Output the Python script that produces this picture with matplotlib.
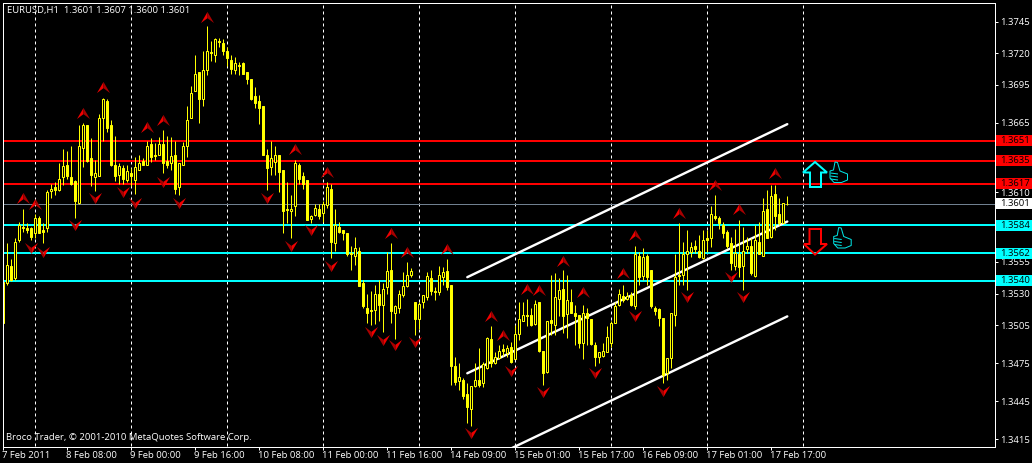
import matplotlib
matplotlib.use('Agg')
import matplotlib.pyplot as plt
from matplotlib.path import Path
from matplotlib.patches import Polygon, Rectangle
from matplotlib.transforms import Affine2D, ScaledTranslation, blended_transform_factory

# Hourly EURUSD candles
opens = [1.3507, 1.3538, 1.3552, 1.3542, 1.3572, 1.3583, 1.3582, 1.3582, 1.3578, 1.3590,
         1.3580, 1.3582, 1.3611, 1.3614, 1.3612, 1.3622, 1.3632, 1.3622, 1.3619, 1.3602,
         1.3645, 1.3663, 1.3637, 1.3622, 1.3623, 1.3669, 1.3682, 1.3663, 1.3632, 1.3624,
         1.3629, 1.3620, 1.3625, 1.3620, 1.3628, 1.3635, 1.3632, 1.3648, 1.3640, 1.3640,
         1.3648, 1.3635, 1.3633, 1.3640, 1.3614, 1.3632, 1.3647, 1.3669, 1.3690, 1.3705,
         1.3684, 1.3707, 1.3721, 1.3719, 1.3730, 1.3728, 1.3722, 1.3715, 1.3707, 1.3711,
         1.3712, 1.3705, 1.3700, 1.3686, 1.3682, 1.3678, 1.3640, 1.3630, 1.3634, 1.3640,
         1.3628, 1.3597, 1.3595, 1.3599, 1.3632, 1.3623, 1.3620, 1.3589, 1.3592, 1.3597,
         1.3594, 1.3600, 1.3613, 1.3570, 1.3583, 1.3580, 1.3578, 1.3562, 1.3560, 1.3564,
         1.3538, 1.3519, 1.3517, 1.3517, 1.3530, 1.3521, 1.3535, 1.3549, 1.3515, 1.3519,
         1.3529, 1.3536, 1.3545, 1.3523, 1.3510, 1.3523, 1.3527, 1.3542, 1.3532, 1.3531,
         1.3543, 1.3548, 1.3537, 1.3473, 1.3461, 1.3462, 1.3451, 1.3439, 1.3457, 1.3462,
         1.3459, 1.3471, 1.3494, 1.3475, 1.3479, 1.3486, 1.3483, 1.3488, 1.3478, 1.3498,
         1.3508, 1.3513, 1.3513, 1.3506, 1.3523, 1.3485, 1.3468, 1.3509, 1.3505, 1.3526,
         1.3534, 1.3514, 1.3523, 1.3515, 1.3513, 1.3491, 1.3515, 1.3510, 1.3489, 1.3480,
         1.3481, 1.3484, 1.3491, 1.3507, 1.3521, 1.3528, 1.3526, 1.3529, 1.3520, 1.3560,
         1.3544, 1.3560, 1.3549, 1.3519, 1.3518, 1.3511, 1.3467, 1.3479, 1.3513, 1.3545,
         1.3545, 1.3561, 1.3563, 1.3568, 1.3564, 1.3558, 1.3574, 1.3574, 1.3591, 1.3590,
         1.3584, 1.3579, 1.3570, 1.3552, 1.3561, 1.3552, 1.3565, 1.3568, 1.3544, 1.3571,
         1.3560, 1.3597, 1.3575, 1.3609, 1.3593, 1.3586, 1.3601]
highs = [1.3551, 1.3570, 1.3557, 1.3574, 1.3587, 1.3597, 1.3586, 1.3583, 1.3593, 1.3591,
         1.3586, 1.3612, 1.3617, 1.3618, 1.3633, 1.3644, 1.3643, 1.3647, 1.3620, 1.3663,
         1.3665, 1.3663, 1.3653, 1.3636, 1.3672, 1.3685, 1.3684, 1.3667, 1.3655, 1.3633,
         1.3632, 1.3632, 1.3629, 1.3638, 1.3640, 1.3637, 1.3651, 1.3653, 1.3649, 1.3654,
         1.3659, 1.3655, 1.3654, 1.3651, 1.3633, 1.3650, 1.3678, 1.3694, 1.3719, 1.3705,
         1.3722, 1.3742, 1.3730, 1.3732, 1.3732, 1.3731, 1.3725, 1.3719, 1.3717, 1.3713,
         1.3713, 1.3705, 1.3700, 1.3693, 1.3687, 1.3678, 1.3644, 1.3651, 1.3647, 1.3640,
         1.3628, 1.3618, 1.3608, 1.3636, 1.3633, 1.3626, 1.3620, 1.3592, 1.3601, 1.3601,
         1.3603, 1.3618, 1.3617, 1.3597, 1.3587, 1.3580, 1.3578, 1.3568, 1.3575, 1.3567,
         1.3541, 1.3530, 1.3532, 1.3537, 1.3541, 1.3538, 1.3563, 1.3570, 1.3521, 1.3533,
         1.3547, 1.3555, 1.3550, 1.3523, 1.3523, 1.3529, 1.3547, 1.3549, 1.3535, 1.3552,
         1.3551, 1.3557, 1.3537, 1.3480, 1.3475, 1.3463, 1.3459, 1.3457, 1.3475, 1.3487,
         1.3476, 1.3496, 1.3504, 1.3484, 1.3489, 1.3490, 1.3489, 1.3492, 1.3505, 1.3523,
         1.3523, 1.3526, 1.3519, 1.3525, 1.3523, 1.3485, 1.3508, 1.3545, 1.3546, 1.3542,
         1.3549, 1.3545, 1.3534, 1.3521, 1.3513, 1.3521, 1.3519, 1.3510, 1.3492, 1.3484,
         1.3491, 1.3504, 1.3508, 1.3523, 1.3534, 1.3537, 1.3531, 1.3531, 1.3568, 1.3563,
         1.3566, 1.3561, 1.3549, 1.3520, 1.3519, 1.3511, 1.3479, 1.3515, 1.3561, 1.3586,
         1.3571, 1.3580, 1.3571, 1.3572, 1.3576, 1.3580, 1.3580, 1.3599, 1.3608, 1.3591,
         1.3587, 1.3580, 1.3575, 1.3581, 1.3588, 1.3583, 1.3575, 1.3574, 1.3584, 1.3587,
         1.3606, 1.3612, 1.3616, 1.3616, 1.3606, 1.3602, 1.3607]
lows = [1.3507, 1.3537, 1.3540, 1.3541, 1.3571, 1.3579, 1.3578, 1.3572, 1.3574, 1.3578,
        1.3570, 1.3579, 1.3606, 1.3608, 1.3611, 1.3616, 1.3621, 1.3616, 1.3590, 1.3601,
        1.3630, 1.3634, 1.3615, 1.3611, 1.3623, 1.3651, 1.3658, 1.3631, 1.3619, 1.3617,
        1.3617, 1.3618, 1.3615, 1.3609, 1.3628, 1.3632, 1.3632, 1.3634, 1.3636, 1.3640,
        1.3625, 1.3629, 1.3628, 1.3609, 1.3608, 1.3632, 1.3638, 1.3669, 1.3690, 1.3665,
        1.3678, 1.3703, 1.3714, 1.3713, 1.3725, 1.3719, 1.3710, 1.3704, 1.3704, 1.3703,
        1.3704, 1.3696, 1.3683, 1.3677, 1.3664, 1.3640, 1.3612, 1.3624, 1.3624, 1.3610,
        1.3578, 1.3586, 1.3574, 1.3591, 1.3617, 1.3613, 1.3588, 1.3586, 1.3591, 1.3589,
        1.3587, 1.3598, 1.3558, 1.3564, 1.3578, 1.3572, 1.3560, 1.3549, 1.3553, 1.3536,
        1.3519, 1.3507, 1.3505, 1.3506, 1.3508, 1.3500, 1.3530, 1.3507, 1.3494, 1.3515,
        1.3527, 1.3535, 1.3543, 1.3497, 1.3502, 1.3519, 1.3525, 1.3529, 1.3525, 1.3529,
        1.3537, 1.3533, 1.3458, 1.3458, 1.3454, 1.3447, 1.3428, 1.3425, 1.3456, 1.3456,
        1.3456, 1.3470, 1.3472, 1.3474, 1.3478, 1.3481, 1.3480, 1.3475, 1.3478, 1.3493,
        1.3508, 1.3504, 1.3504, 1.3505, 1.3484, 1.3458, 1.3467, 1.3497, 1.3497, 1.3512,
        1.3499, 1.3495, 1.3515, 1.3489, 1.3487, 1.3478, 1.3489, 1.3489, 1.3473, 1.3475,
        1.3480, 1.3484, 1.3488, 1.3507, 1.3520, 1.3523, 1.3525, 1.3520, 1.3518, 1.3537,
        1.3541, 1.3537, 1.3519, 1.3513, 1.3504, 1.3459, 1.3462, 1.3471, 1.3504, 1.3537,
        1.3537, 1.3533, 1.3559, 1.3562, 1.3558, 1.3557, 1.3563, 1.3567, 1.3588, 1.3581,
        1.3574, 1.3566, 1.3549, 1.3549, 1.3543, 1.3533, 1.3562, 1.3545, 1.3543, 1.3561,
        1.3560, 1.3574, 1.3574, 1.3580, 1.3584, 1.3586, 1.3600]
closes = [1.3539, 1.3553, 1.3541, 1.3571, 1.3584, 1.3582, 1.3580, 1.3575, 1.3590, 1.3578,
          1.3579, 1.3610, 1.3613, 1.3612, 1.3621, 1.3631, 1.3623, 1.3617, 1.3603, 1.3647,
          1.3663, 1.3635, 1.3624, 1.3625, 1.3669, 1.3684, 1.3661, 1.3632, 1.3623, 1.3631,
          1.3621, 1.3627, 1.3623, 1.3630, 1.3633, 1.3632, 1.3647, 1.3638, 1.3639, 1.3648,
          1.3633, 1.3632, 1.3639, 1.3613, 1.3633, 1.3647, 1.3667, 1.3689, 1.3704, 1.3684,
          1.3707, 1.3722, 1.3720, 1.3731, 1.3729, 1.3722, 1.3716, 1.3708, 1.3712, 1.3710,
          1.3704, 1.3700, 1.3684, 1.3681, 1.3677, 1.3640, 1.3629, 1.3637, 1.3640, 1.3626,
          1.3595, 1.3596, 1.3597, 1.3633, 1.3621, 1.3617, 1.3588, 1.3591, 1.3598, 1.3591,
          1.3601, 1.3614, 1.3571, 1.3584, 1.3579, 1.3578, 1.3561, 1.3561, 1.3566, 1.3536,
          1.3520, 1.3515, 1.3516, 1.3530, 1.3521, 1.3534, 1.3548, 1.3516, 1.3520, 1.3530,
          1.3536, 1.3545, 1.3548, 1.3510, 1.3522, 1.3529, 1.3544, 1.3532, 1.3531, 1.3545,
          1.3547, 1.3535, 1.3473, 1.3460, 1.3464, 1.3449, 1.3440, 1.3457, 1.3462, 1.3458,
          1.3474, 1.3495, 1.3475, 1.3480, 1.3485, 1.3485, 1.3487, 1.3476, 1.3498, 1.3510,
          1.3513, 1.3512, 1.3505, 1.3522, 1.3485, 1.3467, 1.3508, 1.3507, 1.3527, 1.3533,
          1.3512, 1.3525, 1.3515, 1.3512, 1.3491, 1.3515, 1.3511, 1.3490, 1.3480, 1.3484,
          1.3485, 1.3496, 1.3507, 1.3520, 1.3530, 1.3525, 1.3528, 1.3521, 1.3561, 1.3543,
          1.3559, 1.3543, 1.3520, 1.3516, 1.3511, 1.3466, 1.3479, 1.3515, 1.3543, 1.3544,
          1.3561, 1.3564, 1.3567, 1.3565, 1.3559, 1.3572, 1.3572, 1.3593, 1.3590, 1.3586,
          1.3578, 1.3568, 1.3554, 1.3562, 1.3551, 1.3564, 1.3568, 1.3546, 1.3572, 1.3561,
          1.3595, 1.3574, 1.3607, 1.3591, 1.3586, 1.3602, 1.3601]

# fractal arrows: bar number and price
up_bars = [5, 8, 20, 25, 36, 40, 51, 73, 81, 97, 101, 111, 122, 125, 131, 134, 140, 145, 155, 158, 169, 178, 184, 193]
up_prices = [1.3606, 1.3601, 1.3673, 1.3693, 1.3662, 1.3667, 1.3749, 1.3644, 1.3626, 1.3578, 1.3563, 1.3565,
             1.3512, 1.3497, 1.3534, 1.3533, 1.3556, 1.3531, 1.3546, 1.3576, 1.3594, 1.3616, 1.3597, 1.3625]
down_bars = [7, 10, 18, 23, 30, 33, 40, 44, 66, 72, 77, 82, 92, 95, 98, 103, 117, 127, 135, 148, 158, 165, 171, 182, 185]
down_prices = [1.3566, 1.3563, 1.3584, 1.3606, 1.3610, 1.3602, 1.3618, 1.3602, 1.3606, 1.3568, 1.3580, 1.3552,
               1.3500, 1.3493, 1.3489, 1.3492, 1.3420, 1.3469, 1.3452, 1.3467, 1.3512, 1.3453, 1.3527, 1.3543, 1.3527]

# channel lines, start and end
channel_bars = [116, 196]
channel_upper = [1.3543, 1.3664]
channel_middle = [1.3467, 1.3587]
channel_lower = [1.3391, 1.3512]

red_levels = [1.3651, 1.3635, 1.3617]
cyan_levels = [1.3584, 1.3562, 1.3540]
last_price = 1.3601

price_ticks = [1.3745, 1.3720, 1.3695, 1.3665, 1.3610, 1.3555, 1.3530, 1.3505, 1.3475, 1.3445, 1.3415]
time_ticks = [0, 16, 32, 48, 64, 80, 96, 112, 128, 144, 160, 176, 192]
time_labels = ['7 Feb 2011', '8 Feb 08:00', '9 Feb 00:00', '9 Feb 16:00', '10 Feb 08:00', '11 Feb 00:00',
               '11 Feb 16:00', '14 Feb 09:00', '15 Feb 01:00', '15 Feb 17:00', '16 Feb 09:00', '17 Feb 01:00',
               '17 Feb 17:00']
day_lines = [8, 32, 56, 80, 104, 128, 152, 176, 200]

W, H = 1032, 463
PX = 0.72  # one pixel in points
plt.rcParams['font.family'] = 'Open Sans'
fig = plt.figure(figsize=(W / 100, H / 100), dpi=100, facecolor='black')
ax = fig.add_axes([2.5 / W, 16.5 / H, 992 / W, 444 / H], facecolor='black')
ax.set_xlim(-0.2, 247.8)  # nudged so the lines snap to the same pixel columns
ax.set_ylim(1.34091, 1.37602)
for side in ax.spines.values():
    side.set_color('white')
    side.set_linewidth(PX)

FONT = 6.8

ax.vlines(day_lines, 1.34, 1.38, color='white', lw=PX, linestyles=(0, (3, 3)), zorder=1)

# levels and channel go behind the candles
for level in red_levels:
    ax.axhline(level, color='#ff0000', lw=2 * PX, zorder=1.5)
for level in cyan_levels:
    ax.axhline(level, color='#00ffff', lw=2 * PX, zorder=1.5)
ax.axhline(last_price, color='#708090', lw=PX, zorder=1.5)
for chan in (channel_upper, channel_middle, channel_lower):
    ax.plot(channel_bars, chan, color='white', lw=2.4 * PX, zorder=1.6, solid_capstyle='round')

# candles
bars = range(len(opens))
ax.vlines(bars, lows, highs, color='#ffff00', lw=PX, zorder=2)
up = [c >= o for o, c in zip(opens, closes)]
bottoms = [min(o, c) for o, c in zip(opens, closes)]
heights = [abs(c - o) for o, c in zip(opens, closes)]
faces = ['black' if u else '#ffff00' for u in up]
ax.bar(bars, heights, bottom=bottoms, width=0.5, color=faces, edgecolor='#ffff00', linewidth=PX, zorder=2.1)

# fractal arrows, one half bright and one half dark, deep notch in the base
left_up = Path([(0, 0.85), (-1, -0.85), (0, -0.1), (0, 0.85)], closed=True)
right_up = Path([(0, 0.85), (1, -0.85), (0, -0.1), (0, 0.85)], closed=True)
left_down = Path([(0, -0.85), (-1, 0.85), (0, 0.1), (0, -0.85)], closed=True)
right_down = Path([(0, -0.85), (1, 0.85), (0, 0.1), (0, -0.85)], closed=True)
ARROW = 9.4
ax.plot(up_bars, up_prices, ls='none', marker=left_up, ms=ARROW, mfc='#f00000', mew=0, zorder=3)
ax.plot(up_bars, up_prices, ls='none', marker=right_up, ms=ARROW, mfc='#a80000', mew=0, zorder=3)
ax.plot(down_bars, down_prices, ls='none', marker=left_down, ms=ARROW, mfc='#a80000', mew=0, zorder=3)
ax.plot(down_bars, down_prices, ls='none', marker=right_down, ms=ARROW, mfc='#f00000', mew=0, zorder=3)

# axes ticks
ax.yaxis.tick_right()
ax.set_yticks(price_ticks)
ax.set_yticklabels(['%.4f' % p for p in price_ticks])
ax.set_xticks(time_ticks)
ax.set_xticklabels(time_labels, ha='left')
ax.tick_params(axis='y', colors='white', length=3 * PX, width=PX, labelsize=FONT, pad=2)
ax.tick_params(axis='x', colors='white', length=3 * PX, width=PX, labelsize=FONT, pad=1)
nudge = ScaledTranslation(-1.5 / 100, 0, fig.dpi_scale_trans)
for lab in ax.get_xticklabels():
    lab.set_transform(lab.get_transform() + nudge)

# price badges on the right edge
edge = blended_transform_factory(ax.transAxes, ax.transData)
bh = 11 * 0.00007908
badges = [(p, '#ff0000') for p in red_levels] + [(last_price, 'white')] + [(p, '#00ffff') for p in cyan_levels]
for price, col in badges:
    ax.add_patch(Rectangle((1 + 1.5 / 992, price - bh / 2), 38 / 992, bh, transform=edge, facecolor=col,
                           edgecolor='none', clip_on=False, zorder=5))
    ax.text(1 + 5.5 / 992, price, '%.4f' % price, transform=edge, color='black', fontsize=FONT, va='center',
            ha='left', clip_on=False, zorder=6)

ax.text(7 / W, 452.5 / H, 'EURUSD,H1  1.3601 1.3607 1.3600 1.3601', transform=fig.transFigure, color='white',
        fontsize=FONT, va='center', ha='left')
ax.text(6 / W, 26 / H, 'Broco Trader, \u00a9 2001-2010 MetaQuotes Software Corp.', transform=fig.transFigure,
        color='white', fontsize=FONT, va='center', ha='left')

# hand drawn objects on the chart, in screen pixels from the top left
screen = Affine2D().scale(1, -1).translate(0, H)


def shape(points, color, width=2, closed=True):
    fig.add_artist(Polygon(points, closed=closed, fill=False, edgecolor=color, lw=width * PX, transform=screen,
                           zorder=7))


shape([(815, 162), (827, 172.5), (821, 172.5), (821, 187), (810, 187), (810, 172.5), (803, 172.5)], '#00ffff')
shape([(809.5, 229), (821, 229), (821, 244), (827, 244), (815, 254.5), (804, 244), (809.5, 244)], '#ff0000')

for dx, dy in ((0, 0), (3.7, 65.5)):
    hand = [(835, 162), (837.5, 162.5), (840, 171), (847.5, 174), (847.5, 180), (841.5, 182.5), (834, 182.5),
            (830, 178), (830, 171), (833.5, 170)]
    shape([(x + dx, y + dy) for x, y in hand], '#00e6e6', width=1)
    for y in (173, 176, 179):
        shape([(830.5 + dx, y + dy), (838 + dx, y + 1 + dy)], '#00e6e6', width=1, closed=False)

fig.savefig('out.png', dpi=100, facecolor='black')
